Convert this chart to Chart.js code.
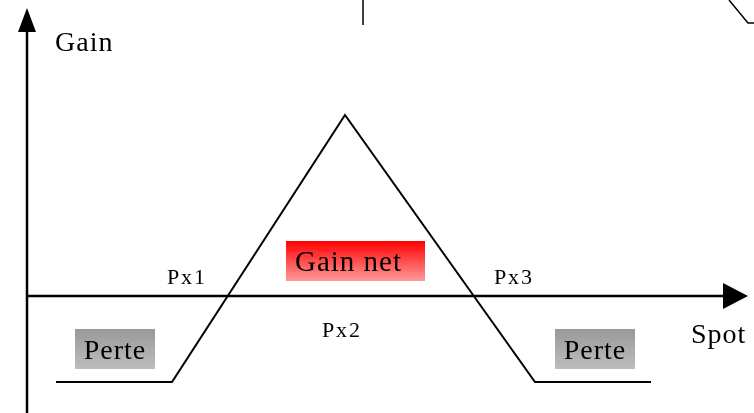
<!DOCTYPE html>
<html>
<head>
<meta charset="utf-8">
<script src="https://cdn.jsdelivr.net/npm/chart.js@4/dist/chart.umd.min.js"></script>
<style>
    html, body { margin: 0; padding: 0; background: #fff; }
    canvas { display: block; }
</style>
</head>
<body>
<canvas id="payoffChart" width="754" height="413"></canvas>
<script>
// spot on the horizontal axis, gain on the vertical one
const spots = [29, 145, 318, 508, 624];
const gains = [-86, -86, 181, -86, -86];
const pointLabels = ['Px1', 'Px2', 'Px3'];
const axisTitles = ['Gain', 'Spot'];
const zoneLabels = ['Gain net', 'Perte', 'Perte'];

const serif = '"Liberation Serif", "Times New Roman", serif';

function arrowHead(ctx, tipX, tipY, dir, len, half) {
    ctx.beginPath();
    if (dir === 'up') {
        ctx.moveTo(tipX, tipY);
        ctx.lineTo(tipX - half, tipY + len);
        ctx.lineTo(tipX + half, tipY + len);
    } else {
        ctx.moveTo(tipX, tipY);
        ctx.lineTo(tipX - len, tipY - half);
        ctx.lineTo(tipX - len, tipY + half);
    }
    ctx.closePath();
    ctx.fill();
}

function box(ctx, x1, y1, x2, y2, top, bottom) {
    const g = ctx.createLinearGradient(0, y1, 0, y2);
    g.addColorStop(0, top);
    g.addColorStop(1, bottom);
    ctx.fillStyle = g;
    ctx.fillRect(x1, y1, x2 - x1, y2 - y1);
}

const sketch = {
    id: 'sketch',
    beforeDatasetsDraw(chart) {
        const { ctx, scales: { x, y } } = chart;
        const px = (v) => x.getPixelForValue(v);
        const py = (v) => y.getPixelForValue(v);
        ctx.save();
        ctx.strokeStyle = '#000';
        ctx.fillStyle = '#000';

        // axes
        ctx.lineWidth = 2.5;
        ctx.beginPath();
        ctx.moveTo(px(0), py(-117));
        ctx.lineTo(px(0), py(270));
        ctx.moveTo(px(0), py(0));
        ctx.lineTo(px(700), py(0));
        ctx.stroke();
        arrowHead(ctx, px(0), py(288), 'up', 24, 9);
        arrowHead(ctx, px(721), py(0), 'right', 25, 13);

        // leftovers of the neighbouring figure at the top
        ctx.lineWidth = 1.5;
        ctx.beginPath();
        ctx.moveTo(px(336), py(296));
        ctx.lineTo(px(336), py(271));
        ctx.moveTo(px(702), py(296));
        ctx.lineTo(px(721), py(273));
        ctx.lineTo(px(727), py(273));
        ctx.stroke();

        // shaded zones
        box(ctx, px(259), py(55), px(398), py(15), '#ff0000', '#ff9a9a');
        box(ctx, px(48), py(-33), px(128), py(-73), '#999999', '#bdbdbd');
        box(ctx, px(528), py(-33), px(608), py(-73), '#999999', '#bdbdbd');

        ctx.fillStyle = '#000';
        ctx.textBaseline = 'alphabetic';
        ctx.textAlign = 'left';
        ctx.letterSpacing = '1px';
        ctx.font = '28px ' + serif;
        ctx.fillText(axisTitles[0], px(28), py(245));
        ctx.fillText(axisTitles[1], px(664), py(-47));
        ctx.font = '29px ' + serif;
        ctx.fillText(zoneLabels[0], px(268), py(25));
        ctx.font = '28px ' + serif;
        ctx.textAlign = 'center';
        ctx.fillText(zoneLabels[1], px(88), py(-63));
        ctx.fillText(zoneLabels[2], px(568), py(-63));

        ctx.font = '22px ' + serif;
        ctx.letterSpacing = '2px';
        ctx.fillText(pointLabels[0], px(160), py(12));
        ctx.fillText(pointLabels[1], px(315), py(-41));
        ctx.fillText(pointLabels[2], px(487), py(12));
        ctx.restore();
    }
};

new Chart(document.getElementById('payoffChart'), {
    type: 'line',
    data: {
        datasets: [
            {
                label: 'Gain',
                data: spots.map((s, i) => ({ x: s, y: gains[i] })),
                borderColor: '#000',
                borderWidth: 2,
                pointRadius: 0,
                tension: 0,
                fill: false,
            },
        ],
    },
    options: {
        responsive: false,
        animation: false,
        devicePixelRatio: 1,
        layout: { padding: 0 },
        plugins: {
            legend: { display: false },
            tooltip: { enabled: false },
        },
        scales: {
            x: { type: 'linear', min: -27, max: 727, display: false },
            y: { type: 'linear', min: -117, max: 296, display: false },
        },
    },
    plugins: [sketch],
});
</script>
</body>
</html>
